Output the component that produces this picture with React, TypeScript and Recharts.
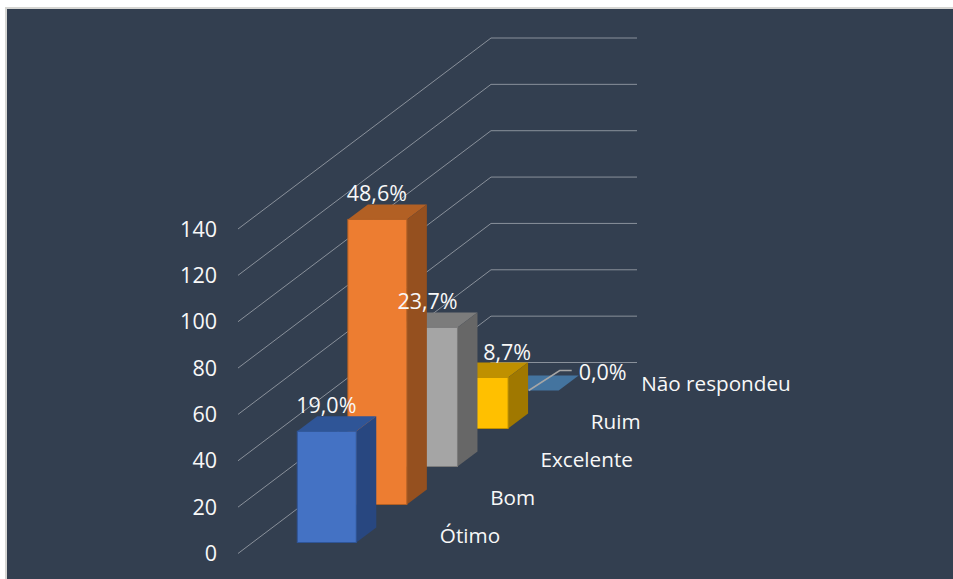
import { Bar, CartesianGrid, ComposedChart, Line, XAxis, YAxis } from "recharts";

const categories = ["Ótimo", "Bom", "Excelente", "Ruim", "Não respondeu"];
const counts = [48, 123, 60, 22, 0];
const percentLabels = ["19,0%", "48,6%", "23,7%", "8,7%", "0,0%"];
const yTicks = [0, 20, 40, 60, 80, 100, 120, 140];

const frontColors = ["#4472C4", "#ED7D31", "#A5A5A5", "#FFC000", "#5B9BD5"];
const topColors = ["#2F5597", "#B26024", "#7C7C7C", "#BF9000", "#44749F"];
const sideColors = ["#284780", "#95501F", "#676767", "#A07800", "#38607F"];

// the table has one column per category so the back bars can be painted first
const chartData = categories.map((name, i) => ({
  name,
  count: counts[i],
  label: percentLabels[i],
  [`c${i}`]: counts[i],
}));

const FONT = "'Open Sans', sans-serif";
const TEXT = "#F8F8F8";
const GRID = "#8A919B";
const BOX_W = 59; // wider than the category band, boxes overlap on purpose
const SIDE_X = 20; // box depth
const SIDE_Y = 15;
const ROW_Y = 38; // each category sits one row further back
const FRONT_Y = 11;
const WALL_X = 253;
const WALL_Y = 191;

const rowLift = (i: number) => FRONT_Y + i * ROW_Y;

function Box3D(props: any, i: number) {
  if (props.index !== i) return <g key={i} />;
  const { width, height } = props;
  const x = props.x + width / 2 - BOX_W / 2;
  const y = props.y - rowLift(i);
  const r = x + BOX_W;
  const b = y + height;
  return (
    <g>
      <polygon
        points={`${x},${y} ${x + SIDE_X},${y - SIDE_Y} ${r + SIDE_X},${y - SIDE_Y} ${r},${y}`}
        fill={topColors[i]}
      />
      {height > 0 && (
        <>
          <polygon
            points={`${r},${y} ${r + SIDE_X},${y - SIDE_Y} ${r + SIDE_X},${b - SIDE_Y} ${r},${b}`}
            fill={sideColors[i]}
          />
          <rect x={x} y={y} width={BOX_W} height={height} fill={frontColors[i]} stroke={topColors[i]} strokeWidth={1} />
        </>
      )}
    </g>
  );
}

function GridLine(props: any) {
  const { x1, y1, x2 } = props;
  const wallY = y1 - WALL_Y;
  return (
    <path
      key={props.key}
      d={`M${x1},${y1} L${x1 + WALL_X},${wallY} L${x2},${wallY}`}
      fill="none"
      stroke={GRID}
      strokeWidth={1}
    />
  );
}

function CategoryTick(props: any) {
  const { x, y, payload, index } = props;
  return (
    <text x={x + 113.5 - index * 0.25} y={y - 10.5 - index * 38} fontFamily={FONT} fontSize={20.7} fill={TEXT}>
      {payload.value}
    </text>
  );
}

const labelNudge = [0, 0, 0, 29, 74];

function PercentLabel(props: any) {
  const { x, y, index } = props;
  const top = y - rowLift(index);
  const isEmpty = counts[index] === 0;
  return (
    <g>
      {isEmpty && (
        <path
          d={`M${x},${top} L${x + 31},${top - 20} L${x + 43},${top - 20}`}
          fill="none"
          stroke="#A6A6A6"
          strokeWidth={1.5}
        />
      )}
      <text
        x={x + labelNudge[index]}
        y={top - (isEmpty ? 11 : 18)}
        textAnchor="middle"
        fontFamily={FONT}
        fontSize={21.5}
        fill={TEXT}
      >
        {percentLabels[index]}
      </text>
    </g>
  );
}

export default function App() {
  return (
    <div style={{ position: "absolute", left: 0, top: 0, width: 953, height: 579, background: "#fff", overflow: "hidden" }}>
      <div
        style={{
          position: "absolute",
          left: 5,
          top: 7,
          right: 0,
          bottom: 0,
          background: "#333F50",
          borderLeft: "2px solid #D6D6D3",
          borderTop: "2px solid #D6D6D3",
        }}
      />
      <ComposedChart
        width={953}
        height={579}
        data={chartData}
        margin={{ top: 229, right: 316, bottom: 20, left: 178 }}
        style={{ position: "absolute", left: 0, top: 0 }}
      >
        <CartesianGrid vertical={false} horizontal={GridLine as any} />
        <XAxis
          dataKey="name"
          height={5.5}
          axisLine={false}
          tickLine={false}
          tickSize={0}
          tickMargin={0}
          interval={0}
          padding={{ left: 63, right: 83 }}
          tick={CategoryTick as any}
        />
        <YAxis
          width={60}
          domain={[0, 140]}
          ticks={yTicks}
          axisLine={false}
          tickLine={false}
          tickSize={0}
          tickMargin={21}
          tick={{ fontFamily: FONT, fontSize: 21.5, fill: TEXT }}
        />
        {categories
          .map((_, i) => (
            <Bar
              key={i}
              dataKey={`c${i}`}
              stackId="boxes"
              barSize={59}
              isAnimationActive={false}
              shape={(p: any) => Box3D(p, i)}
            />
          ))
          .reverse()}
        <Line dataKey="count" stroke="none" dot={false} isAnimationActive={false} label={PercentLabel as any} />
      </ComposedChart>
    </div>
  );
}
